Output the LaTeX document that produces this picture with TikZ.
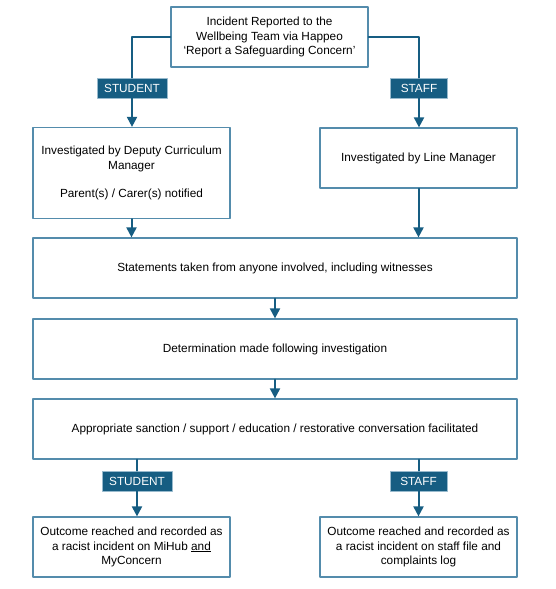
\documentclass[tikz,border=0pt]{standalone}
\usepackage{fontspec}
\setmainfont{Liberation Sans}
\usetikzlibrary{arrows.meta}

\definecolor{boxline}{RGB}{84,140,172}
\definecolor{flowblue}{RGB}{22,93,130}

\begin{document}
\begin{tikzpicture}[x=1pt, y=-1pt, line cap=round, line join=round,
	stepbox/.style={draw=boxline, line width=1.2pt, fill=white, align=center,
		inner sep=2pt, font=\fontsize{11.8}{14.4}\selectfont},
	tagbox/.style={fill=flowblue, draw=boxline!60, line width=0.6pt, text=white,
		minimum height=20pt, inner sep=0pt, font=\fontsize{11.8}{13}\selectfont},
	link/.style={draw=flowblue, line width=2pt},
	flow/.style={link, -{Triangle[width=10pt,length=10pt]}}]
	
	% ----------------------------
	% 0) Canvas
	% ----------------------------
	\useasboundingbox (0,0) rectangle (556,589);
	
	\def\wnarrow{197} % narrow box width
	\def\wwide{484}   % wide box width
	\def\hstep{60}    % box height
	
	% ----------------------------
	% 1) Report box and first split
	% ----------------------------
	\node[stepbox, minimum width=\wnarrow, minimum height=\hstep] (report) at (269.5,37)
	{Incident Reported to the\\Wellbeing Team via Happeo\\`Report a Safeguarding Concern'};
	
	\node[tagbox, minimum width=70] (stuA) at (132,88) {STUDENT};
	\node[tagbox, minimum width=57] (stfA) at (419,88) {STAFF};
	
	% ----------------------------
	% 2) Investigation boxes
	% ----------------------------
	\node[stepbox, minimum width=\wnarrow, minimum height=91] (deputy) at (131.5,173)
	{Investigated by Deputy Curriculum\\Manager\\[14pt]Parent(s) / Carer(s) notified};
	\node[stepbox, minimum width=\wnarrow, minimum height=\hstep] (linemgr) at (418.5,158)
	{Investigated by Line Manager};
	
	% ----------------------------
	% 3) Common steps
	% ----------------------------
	\node[stepbox, minimum width=\wwide, minimum height=\hstep] (statements) at (275,268)
	{Statements taken from anyone involved, including witnesses};
	\node[stepbox, minimum width=\wwide, minimum height=\hstep] (determine) at (275,349)
	{Determination made following investigation};
	\node[stepbox, minimum width=\wwide, minimum height=\hstep] (sanction) at (275,429)
	{Appropriate sanction / support / education / restorative conversation facilitated};
	
	% ----------------------------
	% 4) Second split and outcomes
	% ----------------------------
	\node[tagbox, minimum width=70] (stuB) at (137,481) {STUDENT};
	\node[tagbox, minimum width=57] (stfB) at (418.5,481) {STAFF};
	
	\node[stepbox, minimum width=\wnarrow, minimum height=\hstep] (outstu) at (131.5,547)
	{Outcome reached and recorded as\\a racist incident on MiHub \underline{and}\\MyConcern};
	\node[stepbox, minimum width=\wnarrow, minimum height=\hstep] (outstf) at (418.5,547)
	{Outcome reached and recorded as\\a racist incident on staff file and\\complaints log};
	
	% ----------------------------
	% 5) Connectors
	% ----------------------------
	\draw[link] (report.west) -| (stuA.north);
	\draw[link] (report.east) -| (stfA.north);
	\draw[flow] (stuA.south) -- (stuA.south |- deputy.north);
	\draw[flow] (stfA.south) -- (stfA.south |- linemgr.north);
	
	\draw[flow] (deputy.south) -- (deputy.south |- statements.north);
	\draw[flow] (linemgr.south) -- (linemgr.south |- statements.north);
	\draw[flow] (statements) -- (determine);
	\draw[flow] (determine) -- (sanction);
	
	\draw[link] (stuB.north |- sanction.south) -- (stuB.north);
	\draw[link] (stfB.north |- sanction.south) -- (stfB.north);
	\draw[flow] (stuB.south) -- (stuB.south |- outstu.north);
	\draw[flow] (stfB.south) -- (stfB.south |- outstf.north);
	
\end{tikzpicture}
\end{document}
